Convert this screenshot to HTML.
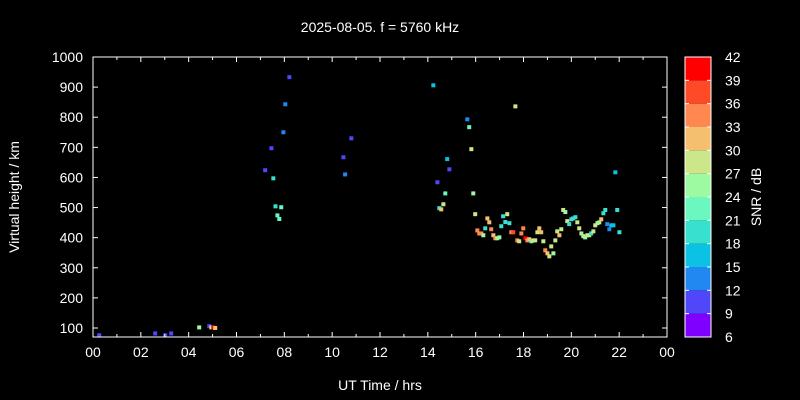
<!DOCTYPE html>
<html><head><meta charset="utf-8"><style>
html,body{margin:0;padding:0;background:#000;overflow:hidden;width:800px;height:400px;}
svg{display:block;}
svg text{font-family:"Liberation Sans",sans-serif;fill:#fff;}
</style></head><body>
<svg id="c" width="800" height="400" viewBox="0 0 800 400">
<rect x="0" y="0" width="800" height="400" fill="#000"/>
<text x="380" y="32" font-size="14" text-anchor="middle">2025-08-05. f = 5760 kHz</text>
<g id="marks"></g>
<g id="axes"></g>
<g id="cbar"></g>
<text x="380" y="390" font-size="14" text-anchor="middle">UT Time / hrs</text>
<text transform="translate(19,197) rotate(-90)" font-size="14" text-anchor="middle">Virtual height / km</text>
<text transform="translate(761,197) rotate(-90)" font-size="14" text-anchor="middle">SNR / dB</text>
</svg>
<script>
const xTicks=["00","02","04","06","08","10","12","14","16","18","20","22","00"];
const yTicks=[100,200,300,400,500,600,700,800,900,1000];
const snrTicks=[6,9,12,15,18,21,24,27,30,33,36,39,42];
const bandColors=["#8000ff","#5046fa","#2088f0","#0cc2e4","#38e0d0","#6af8c0","#9efaa0","#cce68a","#f4c070","#ff8850","#ff4a28","#ff0000"];
const times=[14.23,17.66,15.65,15.73,15.82,14.81,14.90,14.40,14.73,15.90,14.65,14.48,14.56,15.98,16.49,16.57,16.07,16.15,16.24,16.32,16.40,16.65,16.74,16.82,16.90,16.99,17.15,17.32,17.24,17.41,17.07,17.49,17.57,17.74,17.82,17.91,17.99,18.08,18.16,18.24,18.33,18.41,18.49,18.58,18.66,18.74,18.83,18.91,19.00,19.08,19.16,19.25,19.33,19.41,19.50,19.58,19.66,19.75,19.83,19.91,20.00,20.08,20.17,20.25,20.33,20.42,20.50,20.58,20.67,20.75,20.83,20.92,21.00,21.09,21.17,21.25,21.34,21.42,21.50,21.59,21.67,21.76,21.84,21.92,22.01,8.21,8.04,7.96,7.46,7.20,7.54,7.63,7.87,7.71,7.79,10.80,10.47,10.54,0.26,2.60,3.02,3.27,4.44,4.86,4.95,5.03,5.11];
const heights=[906,836,793,767,694,661,627,584,547,547,511,498,494,478,464,451,424,414,414,408,431,428,408,398,398,401,471,478,452,448,438,418,418,391,388,414,431,398,391,395,388,391,391,418,431,418,388,358,348,338,371,348,391,421,408,428,492,485,455,445,461,464,468,451,431,414,405,401,408,408,414,421,441,448,451,461,481,492,445,428,441,441,617,492,418,933,843,750,697,624,597,504,501,474,462,730,667,610,76,82,76,82,102,106,102,102,100];
const snrs=[16.5,28.5,13.5,22.5,28.5,16.5,10.5,10.5,22.5,25.5,28.5,19.5,31.5,28.5,31.5,31.5,34.5,34.5,34.5,25.5,19.5,34.5,31.5,34.5,25.5,25.5,19.5,28.5,19.5,19.5,19.5,34.5,37.5,34.5,28.5,34.5,34.5,40.5,34.5,31.5,22.5,28.5,28.5,28.5,31.5,31.5,28.5,34.5,31.5,28.5,28.5,25.5,28.5,28.5,31.5,28.5,28.5,25.5,28.5,19.5,19.5,19.5,19.5,28.5,28.5,28.5,25.5,25.5,28.5,28.5,19.5,28.5,28.5,28.5,25.5,31.5,19.5,19.5,13.5,13.5,16.5,16.5,16.5,19.5,19.5,10.5,13.5,13.5,10.5,10.5,19.5,19.5,22.5,22.5,22.5,10.5,10.5,13.5,10.5,10.5,10.5,10.5,25.5,10.5,28.5,40.5,31.5];
const NS="http://www.w3.org/2000/svg";
const L=93,R=667,T=57,B=337;
const xScale=h=>L+h*(R-L)/24;
const yScale=k=>328-(k-100)*271/900;
const cScale=s=>B-(s-6)*(B-T)/36;
function mk(tag,attrs,parent){const e=document.createElementNS(NS,tag);for(const k in attrs)e.setAttribute(k,attrs[k]);parent.appendChild(e);return e;}
const marks=document.getElementById('marks');
times.forEach((t,i)=>{
  const band=Math.max(0,Math.min(11,Math.floor((snrs[i]-6)/3)));
  const r=mk('rect',{x:xScale(t)-2,y:yScale(heights[i])-2,width:4,height:4,fill:bandColors[band]},marks);
  
  
});
const ax=document.getElementById('axes');
const fr=mk('rect',{x:L,y:T,width:R-L,height:B-T,fill:'none',stroke:'#fff','stroke-width':1},ax);


xTicks.forEach((lab,i)=>{
  const x=xScale(i*2);
  mk('line',{x1:x,y1:B,x2:x,y2:B-5,stroke:'#fff'},ax);
  mk('line',{x1:x,y1:T,x2:x,y2:T+5,stroke:'#fff'},ax);
  const xm=xScale(i*2+1);
  if(i<12){mk('line',{x1:xm,y1:B,x2:xm,y2:B-3,stroke:'#fff'},ax);mk('line',{x1:xm,y1:T,x2:xm,y2:T+3,stroke:'#fff'},ax);}
  const tx=mk('text',{x:x,y:B+20,'font-size':14,'text-anchor':'middle'},ax);
  tx.textContent=lab;
  
  
});
yTicks.forEach(v=>{
  const y=yScale(v);
  mk('line',{x1:L,y1:y,x2:L+5,y2:y,stroke:'#fff'},ax);
  mk('line',{x1:R,y1:y,x2:R-5,y2:y,stroke:'#fff'},ax);
  const tx=mk('text',{x:L-10,y:y+5,'font-size':14,'text-anchor':'end'},ax);
  tx.textContent=v;
  
  
});
const cb=document.getElementById('cbar');
bandColors.forEach((c,i)=>{
  const y1=cScale(6+(i+1)*3),y0=cScale(6+i*3);
  const r=mk('rect',{x:685,y:y1,width:26,height:y0-y1,fill:c},cb);
  
  
});
mk('rect',{x:685,y:T,width:26,height:B-T,fill:'none',stroke:'#fff'},cb);
snrTicks.forEach(v=>{
  const y=cScale(v);
  mk('line',{x1:685,y1:y,x2:689,y2:y,stroke:'#fff'},cb);
  mk('line',{x1:711,y1:y,x2:707,y2:y,stroke:'#fff'},cb);
  const tx=mk('text',{x:725,y:y+5,'font-size':14},cb);
  tx.textContent=v;
  
  
});
</script>
</body></html>
